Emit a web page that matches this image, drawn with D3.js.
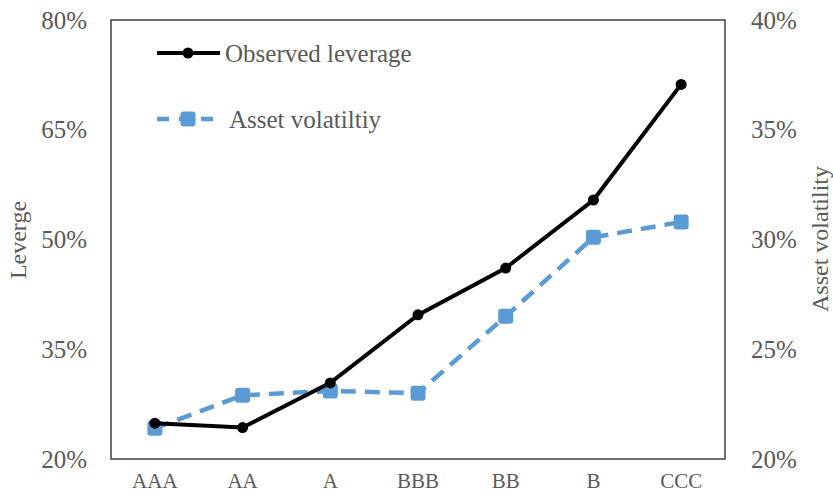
<!DOCTYPE html>
<html>
<head>
<meta charset="utf-8">
<script src="https://cdn.jsdelivr.net/npm/d3@7"></script>
<style>
  body { margin: 0; background: #fff; }
  text { font-family: "Liberation Serif", "Times New Roman", serif; fill: #595959; }
</style>
</head>
<body>
<script>
const w = 833;
const h = 495;
const margin = { top: 20, right: 108, bottom: 36, left: 111 };

const ratings = ["AAA", "AA", "A", "BBB", "BB", "B", "CCC"];
const leverage = [24.9, 24.3, 30.4, 39.7, 46.1, 55.4, 71.2];
const volatility = [21.4, 22.9, 23.1, 23.0, 26.5, 30.1, 30.8];
const leftTicks = [20, 35, 50, 65, 80];
const rightTicks = [20, 25, 30, 35, 40];

const blue = "#5b9bd5";

const svg = d3.select("body").append("svg")
  .attr("width", w)
  .attr("height", h);

const x = d3.scaleBand()
  .domain(ratings)
  .range([margin.left, w - margin.right]);

const yL = d3.scaleLinear().domain([20, 80]).range([h - margin.bottom, margin.top]);
const yR = d3.scaleLinear().domain([20, 40]).range([h - margin.bottom, margin.top]);

const cx = d => x(d) + x.bandwidth() / 2;

// plot border
svg.append("rect")
  .attr("x", margin.left)
  .attr("y", margin.top)
  .attr("width", w - margin.left - margin.right)
  .attr("height", h - margin.top - margin.bottom)
  .attr("fill", "none")
  .attr("stroke", "#404040")
  .attr("stroke-width", 1.5);

// axes
svg.append("g")
  .attr("transform", "translate(" + (margin.left - 21) + ",0)")
  .call(d3.axisLeft(yL).tickValues(leftTicks).tickSize(0).tickFormat(d => d + "%"))
  .call(g => g.select(".domain").remove())
  .selectAll("text").style("font-size", "25px").attr("fill", "#595959");

svg.append("g")
  .attr("transform", "translate(" + (w - margin.right + 23) + ",0)")
  .call(d3.axisRight(yR).tickValues(rightTicks).tickSize(0).tickFormat(d => d + "%"))
  .call(g => g.select(".domain").remove())
  .selectAll("text").style("font-size", "25px").attr("fill", "#595959");

svg.append("g")
  .attr("transform", "translate(0," + (h - margin.bottom + 11) + ")")
  .call(d3.axisBottom(x).tickSize(0))
  .call(g => g.select(".domain").remove())
  .selectAll("text").style("font-size", "21px").attr("fill", "#595959");

svg.append("text")
  .attr("transform", "translate(26,240) rotate(-90)")
  .attr("text-anchor", "middle")
  .style("font-size", "24px")
  .text("Leverge");

svg.append("text")
  .attr("transform", "translate(828,239) rotate(-90)")
  .attr("text-anchor", "middle")
  .style("font-size", "24px")
  .text("Asset volatility");

// lines
const lineL = d3.line().x((d, i) => cx(ratings[i])).y(d => yL(d));
const lineR = d3.line().x((d, i) => cx(ratings[i])).y(d => yR(d));

svg.append("path")
  .datum(volatility)
  .attr("d", lineR)
  .attr("fill", "none")
  .attr("stroke", blue)
  .attr("stroke-width", 4.5)
  .attr("stroke-dasharray", "15,9");

svg.selectAll(".sq")
  .data(volatility)
  .enter()
  .append("rect")
  .attr("class", "sq")
  .attr("x", (d, i) => cx(ratings[i]) - 7.5)
  .attr("y", d => yR(d) - 7.5)
  .attr("width", 15)
  .attr("height", 15)
  .attr("rx", 3)
  .attr("fill", blue);

svg.append("path")
  .datum(leverage)
  .attr("d", lineL)
  .attr("fill", "none")
  .attr("stroke", "#000")
  .attr("stroke-width", 4);

svg.selectAll(".dot")
  .data(leverage)
  .enter()
  .append("circle")
  .attr("class", "dot")
  .attr("cx", (d, i) => cx(ratings[i]))
  .attr("cy", d => yL(d))
  .attr("r", 5.5)
  .attr("fill", "#000");

// legend
const legend = svg.append("g").attr("transform", "translate(157,53)");

legend.append("line")
  .attr("x1", 0).attr("x2", 63).attr("y1", 0).attr("y2", 0)
  .attr("stroke", "#000").attr("stroke-width", 4);
legend.append("circle").attr("cx", 31).attr("cy", 0).attr("r", 5.5).attr("fill", "#000");
legend.append("text").attr("x", 68).attr("y", 9).style("font-size", "25px").text("Observed leverage");

legend.append("line")
  .attr("x1", 0).attr("x2", 60).attr("y1", 66).attr("y2", 66)
  .attr("stroke", blue).attr("stroke-width", 4.5).attr("stroke-dasharray", "12,10");
legend.append("rect").attr("x", 23.5).attr("y", 58.5).attr("width", 15).attr("height", 15)
  .attr("rx", 3).attr("fill", blue);
legend.append("text").attr("x", 72).attr("y", 75).style("font-size", "25px").text("Asset volatiltiy");
</script>
</body>
</html>
